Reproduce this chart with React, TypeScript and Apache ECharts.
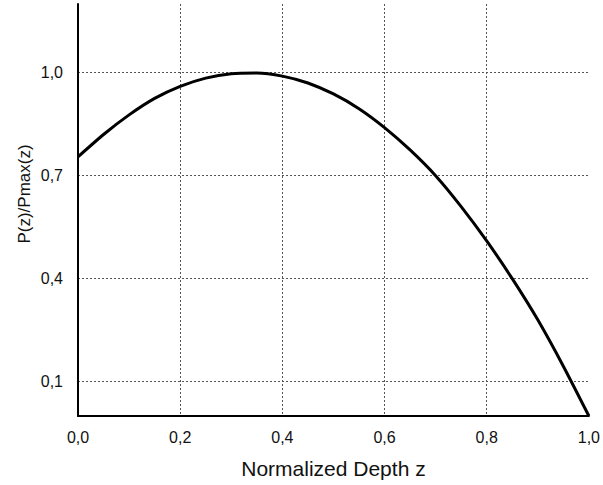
import React, { useEffect, useRef } from "react";
import * as echarts from "echarts";

const depth = [0, 0.05, 0.1, 0.15, 0.2, 0.25, 0.3, 0.35, 0.4, 0.45, 0.5, 0.55, 0.6, 0.65, 0.7, 0.75, 0.8, 0.85, 0.9, 0.95, 1.0];
const ratio = [0.755, 0.82, 0.877, 0.925, 0.96, 0.984, 0.997, 0.999, 0.99, 0.97, 0.938, 0.895, 0.84, 0.775, 0.7, 0.61, 0.51, 0.4, 0.28, 0.145, 0.0];
const yTicks = [0.1, 0.4, 0.7, 1.0];
const xTitle = "Normalized Depth z";
const yTitle = "P(z)/Pmax(z)";

const fmt = (v: number) => v.toFixed(1).replace(".", ",");

export default function App() {
  const ref = useRef<HTMLDivElement>(null);
  useEffect(() => {
    if (!ref.current) return;
    const chart = echarts.init(ref.current, null, { renderer: "svg" });
    const font = "Liberation Sans, Arial, sans-serif";
    chart.setOption({
      animation: false,
      backgroundColor: "#ffffff",
      grid: { left: 78, top: 4, right: 12, bottom: 69, containLabel: false },
      graphic: [
        {
          type: "text",
          x: 24,
          y: 194,
          rotation: Math.PI / 2,
          style: {
            text: yTitle,
            fontFamily: font,
            fontSize: 17,
            fill: "#111111",
            align: "center",
            verticalAlign: "middle",
          },
        },
      ],
      xAxis: {
        type: "value",
        min: 0,
        max: 1,
        interval: 0.2,
        name: xTitle,
        nameLocation: "middle",
        nameGap: 42,
        nameTextStyle: { fontFamily: font, fontSize: 21, color: "#111111" },
        axisLine: { show: true, onZero: false, lineStyle: { color: "#000000", width: 2 } },
        axisTick: { show: false },
        axisLabel: { formatter: (v: number) => fmt(v), fontFamily: font, fontSize: 16, color: "#111111", margin: 13 },
        splitLine: { show: true, showMinLine: false, showMaxLine: false, lineStyle: { color: "#555555", type: [2, 2], width: 1 } },
      },
      yAxis: {
        type: "value",
        min: 0,
        max: 1.2,
        axisLine: { show: true, onZero: false, lineStyle: { color: "#000000", width: 2 } },
        axisTick: { show: false, customValues: yTicks },
        axisLabel: { customValues: yTicks, formatter: (v: number) => fmt(v), fontFamily: font, fontSize: 16, color: "#111111", margin: 15 },
        splitLine: { show: true, lineStyle: { color: "#555555", type: [2, 2], width: 1 } },
      },
      series: [
        {
          type: "line",
          data: depth.map((d, i) => [d, ratio[i]]),
          smooth: 0.2,
          showSymbol: false,
          lineStyle: { color: "#000000", width: 3 },
        },
      ],
    });
    return () => chart.dispose();
  }, []);
  return <div ref={ref} style={{ width: 603, height: 485, position: "absolute", left: 0, top: 0 }} />;
}
